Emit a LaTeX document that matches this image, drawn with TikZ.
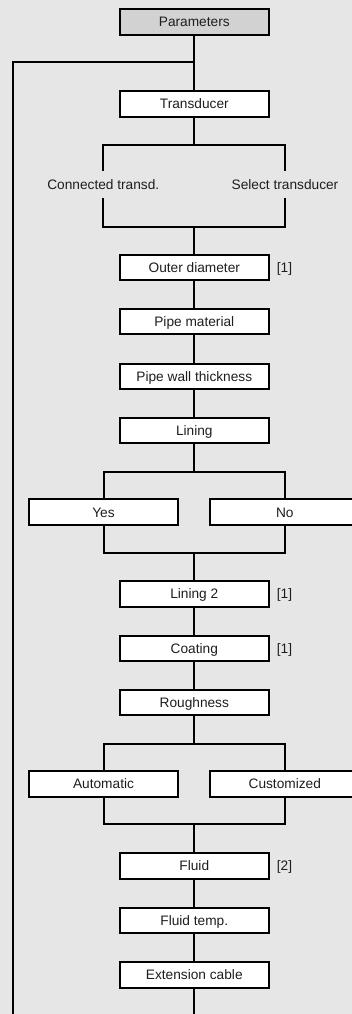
\documentclass[tikz,border=0pt]{standalone}
\usepackage{fontspec}
\setmainfont{Liberation Sans}
\definecolor{bg}{HTML}{E6E6E6}
\definecolor{hdr}{HTML}{D2D2D2}
\definecolor{ink}{HTML}{1E1E1E}
\begin{document}
\begin{tikzpicture}[x=1pt,y=-1pt,
  txt/.style={font=\fontsize{13.7}{16}\selectfont, text=ink, text height=9.8pt, text depth=0pt},
  box/.style={txt, draw=black, line width=2pt, fill=white, minimum width=149.5pt, minimum height=25.5pt, inner sep=0pt},
  hdrbox/.style={box, fill=hdr},
  opt/.style={txt, inner sep=0pt, minimum height=27.5pt},
  note/.style={txt, inner sep=0pt},
  conn/.style={draw=black, line width=2pt, line join=miter}]
\clip (0,0) rectangle (352,1014);
\fill[bg] (0,0) rectangle (352,1014);

% main column
\node[hdrbox] (par) at (194.3,22) {Parameters};
\node[box] (tr) at (194.3,103.9) {Transducer};
\node[opt] (ct) at (103.3,184.5) {Connected transd.};
\node[opt] (st) at (285,184.5) {Select transducer};
\node[box] (od) at (194.3,267.5) {Outer diameter};
\node[box] (pm) at (194.3,321.4) {Pipe material};
\node[box] (pw) at (194.3,376.3) {Pipe wall thickness};
\node[box] (lin) at (194.3,430.3) {Lining};
\node[box] (yes) at (103.5,512.2) {Yes};
\node[box] (no) at (284.8,512.2) {No};
\node[box] (lin2) at (194.3,593.8) {Lining 2};
\node[box] (coat) at (194.3,648.3) {Coating};
\node[box] (rough) at (194.3,702.5) {Roughness};
\node[box] (auto) at (103.5,784) {Automatic};
\node[box] (cust) at (284.8,784) {Customized};
\node[box] (fl) at (194.3,865.8) {Fluid};
\node[box] (ft) at (194.3,920.3) {Fluid temp.};
\node[box] (ext) at (194.3,975) {Extension cable};

% notes
\node[note] (n1) at (284.5,267.5) {[1]};
\node[note] (n2) at (284.5,593.8) {[1]};
\node[note] (n3) at (284.5,648.3) {[1]};
\node[note] (n4) at (284.5,865.8) {[2]};

% coordinates
\coordinate (lj) at (194.3,62.3);
\coordinate (lt) at (13.3,62.3);
\coordinate (lb) at (13.3,1020);
\coordinate (eb) at (194.3,1020);
\coordinate (b1t) at (194.3,144.7);
\coordinate (b1b) at (194.3,226.7);
\coordinate (b2t) at (194.3,471.7);
\coordinate (b2b) at (194.3,553);
\coordinate (b3t) at (194.3,744);
\coordinate (b3b) at (194.3,824.3);

% connectors
\draw[conn] (par) -- (tr);
\draw[conn] (lj) -- (lt) -- (lb);
\draw[conn] (tr) -- (b1t);
\draw[conn] (ct.north) |- (b1t) -| (st.north);
\draw[conn] (ct.south) |- (b1b) -| (st.south);
\draw[conn] (b1b) -- (od);
\draw[conn] (od) -- (pm);
\draw[conn] (pm) -- (pw);
\draw[conn] (pw) -- (lin);
\draw[conn] (lin) -- (b2t);
\draw[conn] (yes.north) |- (b2t) -| (no.north);
\draw[conn] (yes.south) |- (b2b) -| (no.south);
\draw[conn] (b2b) -- (lin2);
\draw[conn] (lin2) -- (coat);
\draw[conn] (coat) -- (rough);
\draw[conn] (rough) -- (b3t);
\draw[conn] (auto.north) |- (b3t) -| (cust.north);
\draw[conn] (auto.south) |- (b3b) -| (cust.south);
\draw[conn] (b3b) -- (fl);
\draw[conn] (fl) -- (ft);
\draw[conn] (ft) -- (ext);
\draw[conn] (ext) -- (eb);
\end{tikzpicture}
\end{document}
